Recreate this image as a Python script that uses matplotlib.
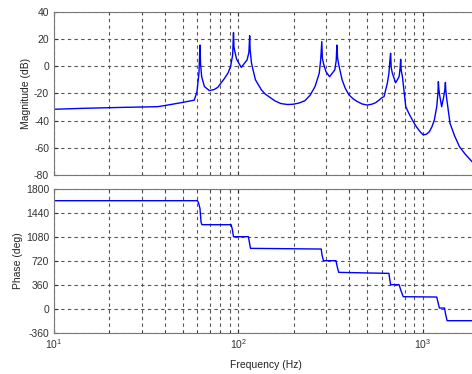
import matplotlib
matplotlib.use('Agg')
import matplotlib.pyplot as plt
import numpy as np
from matplotlib.ticker import LogLocator, NullFormatter, FixedLocator

matplotlib.rcParams['font.family'] = ['Liberation Sans', 'DejaVu Sans']
matplotlib.rcParams['mathtext.fontset'] = 'custom'
matplotlib.rcParams['mathtext.rm'] = 'Liberation Sans'
matplotlib.rcParams['axes.unicode_minus'] = False

# magnitude curve (Hz, dB)
mag_f = [10, 14.4, 23.8, 36.5, 41.4, 48.8, 57.7, 59.7, 61.2, 62.0, 62.4, 63.3, 65.5,
         69.7, 74.0, 77.4, 84.2, 88.0, 90.8, 93.2, 94.2, 94.8, 95.4, 98.0, 103.8, 111.6, 114.2,
         115.3, 116.0, 118.0, 123.9, 133.6, 140, 148.3, 158, 170.2, 185, 199, 215, 230, 245,
         261, 275, 280, 284, 286, 290, 299, 313, 334, 340, 343, 346, 351, 366, 380, 398,
         420, 442, 470, 500, 530, 556, 580, 604, 618, 644, 657, 665, 671, 676, 686, 715,
         746, 755, 761, 766, 778, 811, 845, 881, 910, 939, 975, 1009, 1050, 1089, 1125,
         1159, 1194, 1212, 1219, 1225, 1234, 1270, 1303, 1322, 1331, 1338, 1352, 1410,
         1490, 1587, 1700, 1892, 2000]
mag_db = [-31.7, -31.0, -30.3, -29.8, -28.6, -26.9, -25.0, -18.8, -5.0, 15.5, 2.0, -7.8, -15.0,
          -18.0, -17.2, -15.6, -9.0, -5.0, -0.4, 8.0, 24.6, 14.0, 11.9, 5.0, -0.9, 4.5, 10.0,
          22.4, 12.0, 2.0, -10.0, -17.5, -20.5, -22.9, -25.5, -27.5, -28.2, -28.0, -27.0, -25.4, -21.5,
          -15.0, -5.3, 4.5, 18.0, 6.0, 2.0, -4.0, -7.8, -2.8, 4.0, 15.5, 6.0, 1.0, -10.0, -16.0, -21.0,
          -24.0, -26.0, -27.8, -28.6, -28.0, -26.9, -25.0, -23.0, -22.5, -12.6, -5.3, 4.0, 9.4, -1.0, -5.3, -12.2,
          -7.8, -2.0, 5.0, -3.0, -7.8, -29.8, -35.0, -39.6, -43.0, -45.7, -48.5, -50.6, -50.0, -48.2, -44.5,
          -39.6, -29.8, -20.0, -11.4, -16.0, -20.0, -29.8, -22.5, -17.0, -11.9, -18.0, -23.7, -42.0,
          -51.0, -59.2, -64.5, -71.4, -74.5]

# phase curve (Hz, deg)
ph_f = [10, 60.1, 61.0, 62.0, 62.8, 63.5, 91.5, 93.0, 94.2, 113.5, 115.0, 116.5, 282, 285,
        290, 339, 345, 351, 657, 664, 671, 746, 766, 786, 1194, 1215, 1234, 1316, 1338,
        1360, 2000]
ph_deg = [1620, 1620, 1580, 1500, 1300, 1260, 1260, 1180, 1080, 1080, 990, 905, 895, 800,
          720, 720, 620, 545, 530, 440, 360, 360, 260, 180, 175, 90, 10, 10, -100,
          -180, -180]

mag_ticks = [-80, -60, -40, -20, 0, 20, 40]
ph_ticks = [-360, 0, 360, 720, 1080, 1440, 1800]

fig = plt.figure(figsize=(4.72, 3.74), dpi=100)
W, H = 472, 374
x0, x1 = 54, 478
ax1 = fig.add_axes([x0 / W, 1 - 175 / H, (x1 - x0) / W, (175 - 11.7) / H])
ax2 = fig.add_axes([x0 / W, 1 - 332.7 / H, (x1 - x0) / W, (332.7 - 188.7) / H])

ax1.semilogx(mag_f, mag_db, color='#0000ff', lw=1.0)
ax2.semilogx(ph_f, ph_deg, color='#0000ff', lw=1.0)

for ax in (ax1, ax2):
    ax.set_xlim(10, 2000)
    ax.xaxis.set_major_locator(LogLocator(base=10, numticks=10))
    ax.xaxis.set_minor_locator(LogLocator(base=10, subs=np.arange(2, 10), numticks=10))
    ax.xaxis.set_minor_formatter(NullFormatter())
    ax.grid(True, which='major', color='#555555', ls=(0, (3, 3)), lw=0.8)
    ax.grid(True, which='minor', axis='x', color='#555555', ls=(0, (3, 3)), lw=0.8)
    ax.tick_params(which='both', direction='in', top=True, right=True,
                   labelsize=7.5, colors='#333333', labelcolor='#333333')
    ax.tick_params(which='major', length=3)
    ax.tick_params(which='minor', length=1.5)
    for s in ax.spines.values():
        s.set_color('#777777')
        s.set_linewidth(0.8)

ax1.set_ylim(-80, 40)
ax1.yaxis.set_major_locator(FixedLocator(mag_ticks))
ax1.xaxis.set_major_formatter(NullFormatter())
ax1.set_ylabel('Magnitude (dB)', fontsize=7.5, color='#222222', labelpad=2)

ax2.set_ylim(-360, 1800)
ax2.yaxis.set_major_locator(FixedLocator(ph_ticks))
ax2.set_ylabel('Phase (deg)', fontsize=7.5, color='#222222', labelpad=2)
ax2.set_xlabel('Frequency (Hz)', fontsize=7.5, color='#222222', labelpad=6)

plt.savefig('out.png', dpi=100)
